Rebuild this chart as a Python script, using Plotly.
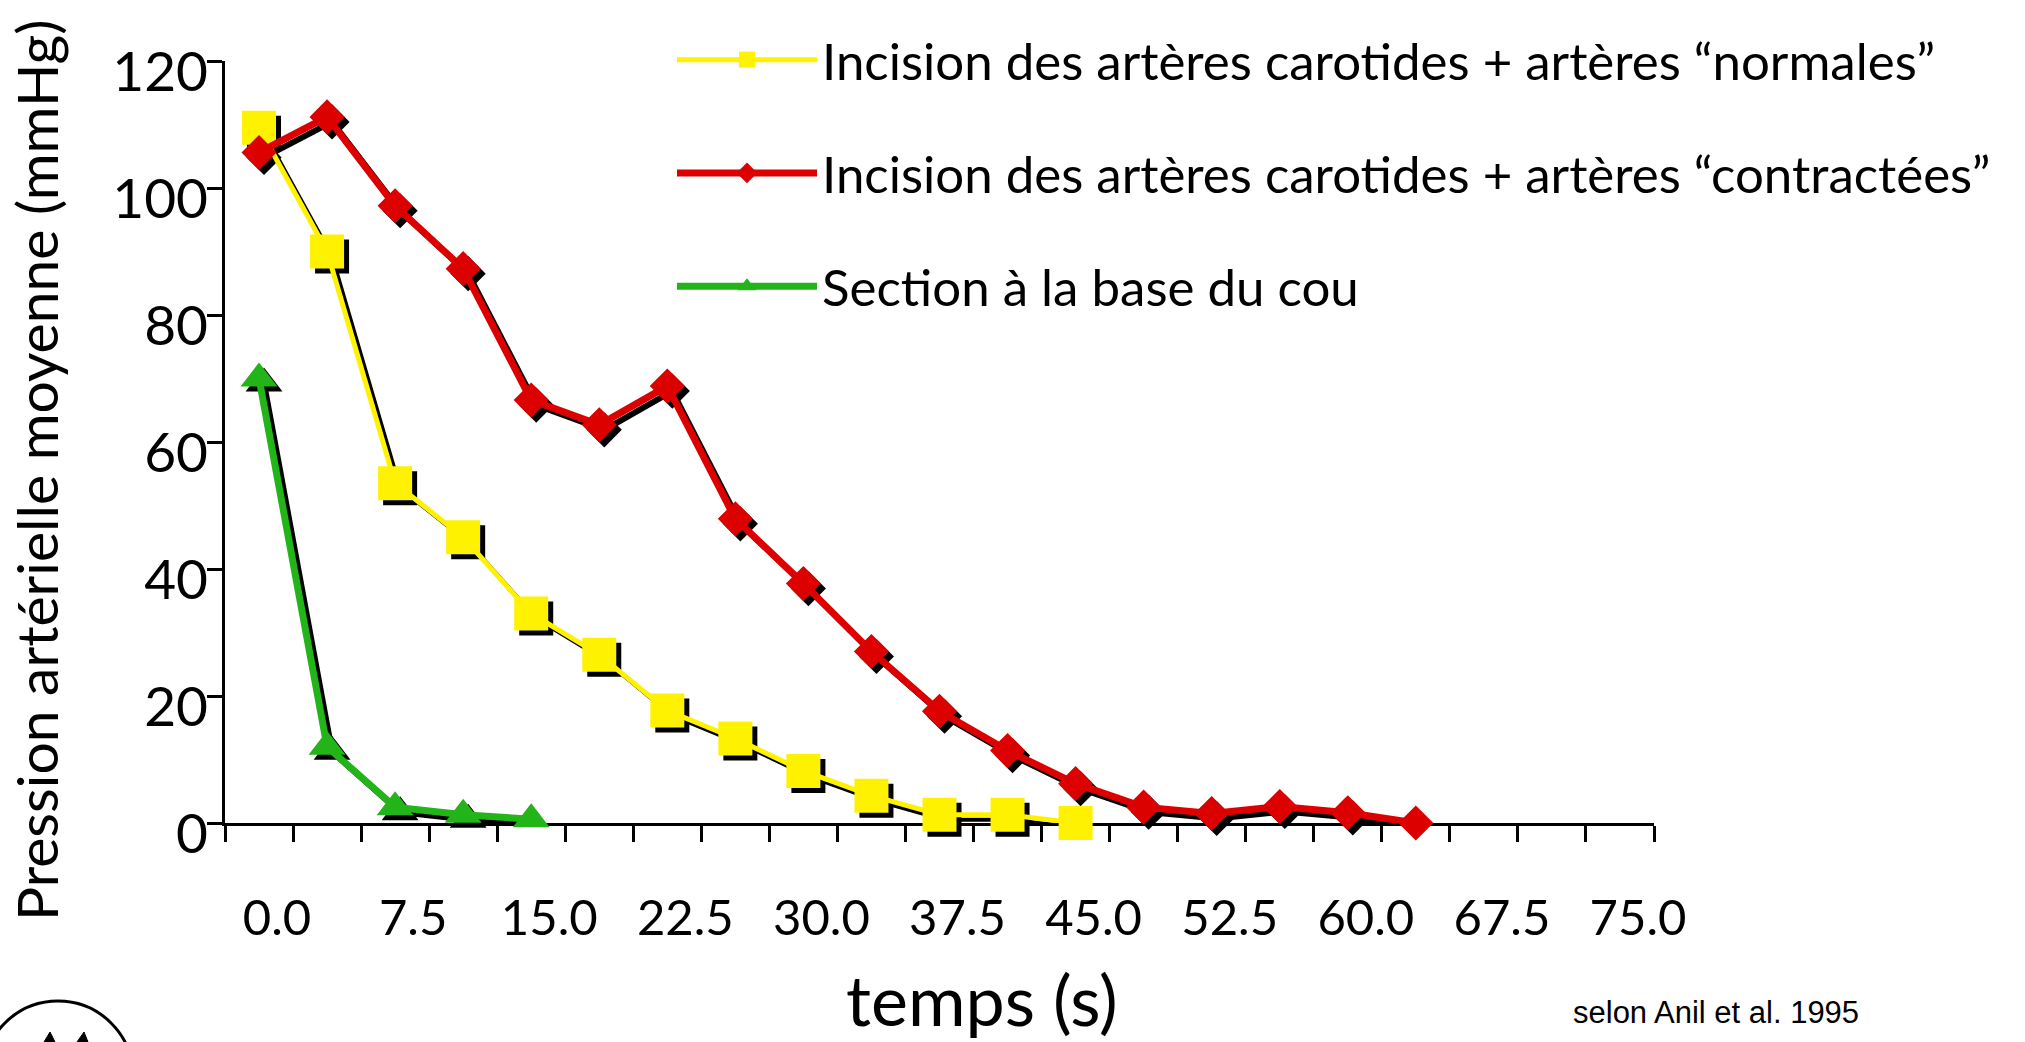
import plotly.graph_objects as go

# ---------------- data ----------------
time_s = [0.0, 3.75, 7.5, 11.25, 15.0, 18.75, 22.5, 26.25, 30.0, 33.75, 37.5,
          41.25, 45.0, 48.75, 52.5, 56.25, 60.0, 63.75, 67.5, 71.25, 75.0]
tick_values = [0.0, 7.5, 15.0, 22.5, 30.0, 37.5, 45.0, 52.5, 60.0, 67.5, 75.0]
tick_labels = ["0.0", "7.5", "15.0", "22.5", "30.0", "37.5", "45.0", "52.5", "60.0", "67.5", "75.0"]
y_ticks = [0, 20, 40, 60, 80, 100, 120]

name_normal = "Incision des artères carotides + artères “normales”"
name_contract = "Incision des artères carotides + artères “contractées”"
name_section = "Section à la base du cou"

normal_vals = [109.5, 90.0, 53.5, 45.0, 33.0, 26.5, 17.7, 13.3, 8.2, 4.3, 1.3, 1.3, 0.0]
contract_vals = [105.6, 111.2, 97.2, 87.3, 66.6, 62.7, 68.8, 47.9, 37.7, 27.0, 17.6,
                 11.4, 6.2, 2.5, 1.5, 2.6, 1.6, 0.0]
section_vals = [70.0, 12.0, 2.5, 1.3, 0.6]

# ---------------- geometry / style ----------------
W, H = 2025, 1042
ML, MR, MT, MB = 225, 371, 61, 219
x_range = [-1.875, 76.875]
y_range = [0, 120]
plot_w = W - ML - MR
plot_h = H - MT - MB
px_per_x = plot_w / (x_range[1] - x_range[0])
px_per_y = plot_h / (y_range[1] - y_range[0])
shadow_dx, shadow_dy = 5, 5  # px
x_shadow_range = [x_range[0] - shadow_dx / px_per_x, x_range[1] - shadow_dx / px_per_x]
y_shadow_range = [y_range[0] + shadow_dy / px_per_y, y_range[1] + shadow_dy / px_per_y]

YELLOW = "#FFF200"
RED = "#DD0000"
GREEN = "#22B418"
FONT = "Lato, Carlito, 'Open Sans', sans-serif"

series = [
    (name_normal, time_s[:len(normal_vals)], normal_vals, YELLOW, "square", 34, 5),
    (name_contract, time_s[:len(contract_vals)], contract_vals, RED, "diamond", 27, 7),
    (name_section, time_s[:len(section_vals)], section_vals, GREEN, "triangle-up", 32, 7),
]

fig = go.Figure()

# black shadows on the (hidden) x/y subplot, shifted a few pixels
for name, xs, ys, col, sym, size, lw in series:
    fig.add_trace(go.Scatter(
        x=xs, y=ys, xaxis="x", yaxis="y", mode="lines+markers",
        line=dict(color="black", width=lw - 1),
        marker=dict(symbol=sym, size=size, color="black", line=dict(width=0)),
        showlegend=False, hoverinfo="skip", cliponaxis=False,
    ))

# coloured series on the visible x2/y2 subplot (same domain)
for i, (name, xs, ys, col, sym, size, lw) in enumerate(series):
    fig.add_trace(go.Scatter(
        x=xs, y=ys, xaxis="x2", yaxis="y2", mode="lines+markers", name=name,
        legendgroup=f"g{i}",
        line=dict(color=col, width=lw),
        marker=dict(symbol=sym, size=size, color=col, line=dict(width=0)),
        cliponaxis=False,
    ))

fig.update_layout(
    width=W, height=H, autosize=False,
    margin=dict(l=ML, r=MR, t=MT, b=MB, pad=0, autoexpand=False),
    paper_bgcolor="white", plot_bgcolor="rgba(0,0,0,0)",
    font=dict(family=FONT, color="black"),
    xaxis=dict(range=x_shadow_range, domain=[0, 1], anchor="y", visible=False),
    yaxis=dict(range=y_shadow_range, domain=[0, 1], anchor="x", visible=False),
    xaxis2=dict(
        range=x_range, domain=[0, 1], anchor="y2", showgrid=False, zeroline=False,
        showline=True, linecolor="black", linewidth=3, layer="below traces",
        tickmode="array", tickvals=tick_values, ticktext=tick_labels,
        ticks="", tickfont=dict(family=FONT, size=49, color="black"),
        ticklabelshift=18, ticklabelstandoff=50,
        minor=dict(ticks="outside", ticklen=16, tickwidth=3, tickcolor="black",
                   tick0=-1.875, dtick=3.75, showgrid=False),
    ),
    yaxis2=dict(
        range=y_range, domain=[0, 1], anchor="x2", showgrid=False, zeroline=False,
        showline=True, linecolor="black", linewidth=3, layer="below traces",
        tickmode="array", tickvals=y_ticks,
        ticks="outside", ticklen=15, tickwidth=3, tickcolor="black",
        tickfont=dict(family=FONT, size=55, color="black"),
        ticklabelshift=11, ticklabelstandoff=-12,
    ),
    legend=dict(
        x=(672 - ML) / plot_w, y=(H - MB - 20) / plot_h,
        xanchor="left", yanchor="top",
        font=dict(family=FONT, size=51, color="black"),
        bgcolor="rgba(0,0,0,0)", itemwidth=140, tracegroupgap=44,
        traceorder="grouped",
    ),
)


def px_to_paper_x(px):
    return (px - ML) / plot_w


def px_to_paper_y(py):
    return (H - MB - py) / plot_h


# axis titles and source
fig.add_annotation(
    text="Pression artérielle moyenne (mmHg)", textangle=-90,
    x=px_to_paper_x(36), y=px_to_paper_y(471), xref="paper", yref="paper",
    xanchor="center", yanchor="middle",
    showarrow=False, font=dict(family=FONT, size=57, color="black"),
)
fig.add_annotation(
    text="temps (s)", x=px_to_paper_x(982), y=px_to_paper_y(999),
    xref="paper", yref="paper", xanchor="center", yanchor="middle", showarrow=False,
    font=dict(family=FONT, size=70, color="black"),
)
fig.add_annotation(
    text="selon Anil et al. 1995", x=px_to_paper_x(1571), y=px_to_paper_y(1012),
    xref="paper", yref="paper", xanchor="left", yanchor="middle", showarrow=False,
    font=dict(family="'Liberation Sans Narrow', 'Liberation Sans', Arial, sans-serif", size=31, color="black"),
)

# partial logo at bottom-left
fig.add_shape(
    type="circle", xref="paper", yref="paper",
    x0=px_to_paper_x(-17), x1=px_to_paper_x(133),
    y0=px_to_paper_y(1001), y1=px_to_paper_y(1151),
    line=dict(color="black", width=3), fillcolor="rgba(0,0,0,0)",
)
for a, b, c in [(44, 50, 55), (77, 84, 88)]:
    fig.add_shape(
        type="path", xref="paper", yref="paper",
        path=(f"M {px_to_paper_x(a)} {px_to_paper_y(1042)} L {px_to_paper_x(b)} {px_to_paper_y(1032)} "
              f"L {px_to_paper_x(c)} {px_to_paper_y(1042)} Z"),
        fillcolor="black", line=dict(color="black", width=1),
    )

fig.write_html("out.html", config={"displayModeBar": False},
               post_script="document.body.style.margin='0';")
